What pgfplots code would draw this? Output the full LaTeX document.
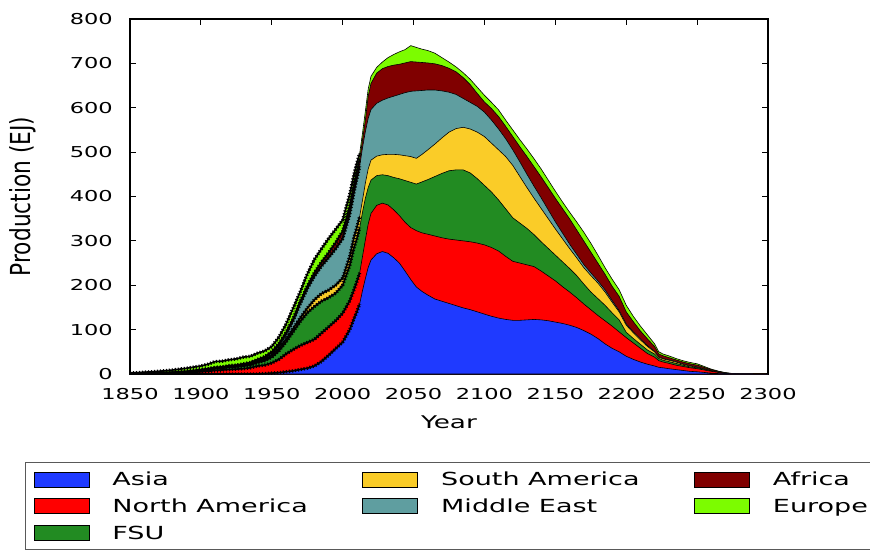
\documentclass[border=0pt]{standalone}
\usepackage{graphicx}
\usepackage{fontspec}
\setmainfont{DejaVu Sans}
\newfontfamily\stretchfont[FakeStretch=1.5]{DejaVu Sans}
\newfontfamily\plainfont{DejaVu Sans}
\usepackage{pgfplots}
\usepackage{pgfplotstable}
\pgfplotsset{compat=1.18}

\definecolor{asiac}{RGB}{31,58,255}
\definecolor{nac}{RGB}{255,0,0}
\definecolor{fsuc}{RGB}{34,139,34}
\definecolor{sac}{RGB}{250,204,40}
\definecolor{mec}{RGB}{95,158,160}
\definecolor{afc}{RGB}{128,0,0}
\definecolor{euc}{RGB}{124,252,0}

% cumulative (stacked) production, EJ: c1=Asia, c2=+North America, c3=+FSU,
% c4=+South America, c5=+Middle East, c6=+Africa, c7=+Europe
\pgfplotstableread{
year c1 c2 c3 c4 c5 c6 c7
1850 0 0.3 0.5 0.6 0.7 0.8 2
1860 0 0.6 1 1.2 1.4 1.6 4
1870 0 1 1.6 2 2.3 2.6 6
1880 0 1.5 2.5 3 3.5 4 9
1890 0 3 4.5 5 5.5 6 13
1900 0 5 7 8 9 10 18
1905 0 6 9 10 11 12 22
1910 0 8 12 13 14 15 28
1915 0 9 13 14 15 16 29
1920 0 10 15 16 17 19 32
1925 0 11 16 17 18.5 20 34
1930 0 12 18 19 21 23 38
1935 0 14 20 22 24 26 40
1940 0 18 26 28 31 33 47
1945 1 20 30 33 37 39 52
1950 2 25 38 42 48 50 62
1955 3 33 52 57 65 68 83
1960 5 45 72 78 90 93 112
1965 7 55 95 102 120 124 148
1970 10 64 118 126 158 163 185
1975 13 71 138 148 192 198 225
1980 18 78 152 167 220 228 258
1985 28 92 164 181 243 252 282
1990 42 106 172 189 262 273 305
1995 57 120 182 200 282 296 326
2000 72 137 200 216 305 322 347
2005 100 165 245 265 360 378 405
2008 125 190 285 308 410 428 450
2010 140 208 305 330 440 457 475
2012 158 228 330 355 468 484 497
2014 188 265 365 392 510 528 543
2016 215 302 396 430 546 572 592
2018 240 338 420 462 576 626 642
2020 257 362 437 482 596 655 671
2024 271 380 447 491 610 678 691
2028 276 385 449 494 617 688 703
2032 272 381 447 495 622 693 713
2036 262 370 443 495 626 696 720
2040 250 357 440 494 630 698 726
2044 232 342 436 492 634 701 731
2048 213 330 432 490 637 704 740
2052 196 323 428 486 638 703 736
2056 186 318 433 495 639 702 732
2060 178 315 438 505 640 701 729
2065 169 311 445 518 640 699 723
2070 164 307 452 532 638 695 713
2075 159 304 458 545 635 689 703
2080 154 302 460 553 630 681 692
2085 149 300 460 556 621 668 679
2090 145 298 453 552 612 652 664
2095 140 295 440 545 603 632 646
2100 135 291 425 535 590 613 628
2105 130 285 410 520 572 598 612
2110 126 277 392 505 552 580 595
2115 123 265 372 490 530 558 572
2120 121 254 352 470 505 535 550
2125 121 250 340 445 478 512 528
2130 122 246 328 420 450 490 507
2135 123 242 314 396 423 467 485
2140 122 232 298 373 397 444 462
2145 120 221 283 350 370 420 437
2150 117 210 268 327 343 396 412
2155 114 197 253 305 318 373 388
2160 110 185 238 283 293 350 365
2165 105 172 222 262 270 325 343
2170 98 158 203 240 247 300 320
2175 90 145 185 222 228 275 295
2180 80 132 170 205 210 250 268
2185 68 120 155 185 190 225 240
2190 58 108 138 162 166 198 214
2195 50 95 122 140 143 175 190
2200 40 82 94 110 113 140 155
2205 33 70 80 93 95 118 130
2210 27 58 67 77 79 97 108
2215 22 46 54 62 64 79 88
2220 18 38 45 50 51 62 68
2223 15 30 35 38 39 45 50
2226 14 27 31 34 35 41 45
2230 12 24 28 31 32 37 41
2235 10 20 24 27 28 32 35
2240 8 17 20 22 23 27 30
2245 6 14 16 18 19 23 26
2250 5 12 14 15 16 20 23
2255 3.5 9 10.5 11.5 12 15 17
2260 2 6 7 7.5 8 10 11
2265 1 3.5 4 4.5 4.7 5.8 6.5
2270 0.4 1.5 1.8 2 2.1 2.6 3
2275 0.2 0.6 0.7 0.8 0.9 1 1.2
2280 0.1 0.3 0.35 0.4 0.45 0.5 0.6
2290 0 0.05 0.05 0.05 0.05 0.05 0.1
2300 0 0 0 0 0 0 0
}\prod

\pgfplotsset{
  histline/.style={forget plot, black, line width=1.6pt,
    restrict x to domain=1850:2012},
  histbead/.style={forget plot, black, line width=3.4pt,
    dash pattern=on 1.2pt off 1.8pt, restrict x to domain=1850:2012},
}

\begin{document}
\begin{tikzpicture}
\begin{axis}[
  name=ax,
  scale only axis,
  width=638pt, height=355pt,
  xmin=1850, xmax=2300, ymin=0, ymax=800,
  xtick={1850,1900,...,2300},
  ytick={0,100,...,800},
  tick align=inside,
  major tick length=6pt,
  tick style={black, line width=1pt},
  axis line style={black, line width=1.2pt},
  tick label style={font=\stretchfont\fontsize{15}{18}\selectfont,
    /pgf/number format/assume math mode=true,
    /pgf/number format/1000 sep={}, inner sep=0pt},
  yticklabel style={anchor=east, xshift=-17pt},
  xticklabel style={anchor=north, yshift=-14pt},
  xlabel={Year},
  xlabel style={at={(axis description cs:0.5,0)}, anchor=north, yshift=-42pt,
    inner sep=0pt, font=\stretchfont\fontsize{17.5}{20}\selectfont},
  ylabel={\scalebox{1}[1.27]{Production (EJ)}},
  ylabel style={at={(axis description cs:0,0.5)}, anchor=center, yshift=107pt,
    inner sep=0pt, font=\plainfont\fontsize{21.7}{24}\selectfont},
  legend columns=3,
  legend cell align=left,
  legend image code/.code={\draw[#1] (0pt,-7.5pt) rectangle (55pt,7.5pt);},
  legend style={
    at={(0,0)}, anchor=north west, xshift=-105pt, yshift=-88pt,
    draw=black!65, line width=1.2pt, fill=white,
    inner xsep=8pt, inner ysep=9pt,
    row sep=11pt,
    font=\stretchfont\fontsize{18}{21}\selectfont,
    nodes={inner sep=0pt},
    /tikz/every odd column/.append style={column sep=23pt},
    /tikz/every even column/.append style={column sep=0pt},
  },
]
% stacked areas, painted from the top layer down
\addplot[forget plot, fill=euc, draw=black, line width=0.6pt] table[x=year, y=c7] {\prod} \closedcycle;
\addplot[forget plot, fill=afc, draw=black, line width=0.6pt] table[x=year, y=c6] {\prod} \closedcycle;
\addplot[forget plot, fill=mec, draw=black, line width=0.6pt] table[x=year, y=c5] {\prod} \closedcycle;
\addplot[forget plot, fill=sac, draw=black, line width=0.6pt] table[x=year, y=c4] {\prod} \closedcycle;
\addplot[forget plot, fill=fsuc, draw=black, line width=0.6pt] table[x=year, y=c3] {\prod} \closedcycle;
\addplot[forget plot, fill=nac, draw=black, line width=0.6pt] table[x=year, y=c2] {\prod} \closedcycle;
\addplot[forget plot, fill=asiac, draw=black, line width=0.6pt] table[x=year, y=c1] {\prod} \closedcycle;
% historical data drawn as beaded black lines
\addplot[histline] table[x=year, y=c1] {\prod};
\addplot[histline] table[x=year, y=c2] {\prod};
\addplot[histline] table[x=year, y=c3] {\prod};
\addplot[histline] table[x=year, y=c4] {\prod};
\addplot[histline] table[x=year, y=c5] {\prod};
\addplot[histline] table[x=year, y=c6] {\prod};
\addplot[histline] table[x=year, y=c7] {\prod};
\addplot[histbead] table[x=year, y=c1] {\prod};
\addplot[histbead] table[x=year, y=c2] {\prod};
\addplot[histbead] table[x=year, y=c3] {\prod};
\addplot[histbead] table[x=year, y=c4] {\prod};
\addplot[histbead] table[x=year, y=c5] {\prod};
\addplot[histbead] table[x=year, y=c6] {\prod};
\addplot[histbead] table[x=year, y=c7] {\prod};
% legend (matplotlib column order)
\addlegendimage{fill=asiac, draw=black, line width=0.8pt}
\addlegendentry{\makebox[250pt][l]{Asia}}
\addlegendimage{fill=sac, draw=black, line width=0.8pt}
\addlegendentry{\makebox[253pt][l]{South America}}
\addlegendimage{fill=afc, draw=black, line width=0.8pt}
\addlegendentry{\makebox[120pt][l]{Africa}}
\addlegendimage{fill=nac, draw=black, line width=0.8pt}
\addlegendentry{\makebox[250pt][l]{North America}}
\addlegendimage{fill=mec, draw=black, line width=0.8pt}
\addlegendentry{\makebox[253pt][l]{Middle East}}
\addlegendimage{fill=euc, draw=black, line width=0.8pt}
\addlegendentry{\makebox[120pt][l]{Europe}}
\addlegendimage{fill=fsuc, draw=black, line width=0.8pt}
\addlegendentry{\makebox[250pt][l]{FSU}}
\end{axis}
\pgfresetboundingbox
\path[use as bounding box] (ax.south west) ++(-130pt,-175pt) rectangle ++(870pt,549pt);
\end{tikzpicture}
\end{document}
